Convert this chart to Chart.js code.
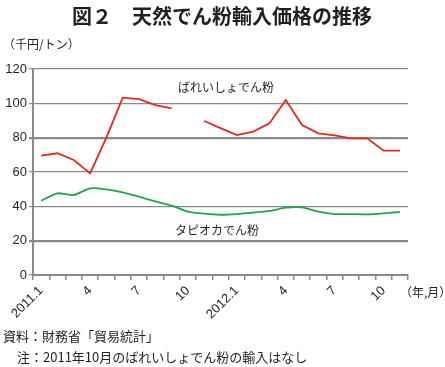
<!DOCTYPE html>
<html>
<head>
<meta charset="utf-8">
<script src="https://cdn.jsdelivr.net/npm/chart.js@4"></script>
<style>
  html, body { margin: 0; padding: 0; background: #fff; }
</style>
</head>
<body>
<canvas id="myChart" width="445" height="367"></canvas>
<script>
// 2011.1 - 2012.11
const months = ["2011.1", "2", "3", "4", "5", "6", "7", "8", "9", "10", "11", "12",
  "2012.1", "2", "3", "4", "5", "6", "7", "8", "9", "10", "11"];
// ばれいしょでん粉 (2011.10 は輸入なし)
const potato = [69.5, 70.9, 67.0, 59.2, 80.0, 103.3, 102.5, 99.0, 97.1, null, 89.7, 85.6,
  81.5, 83.5, 88.3, 101.9, 87.4, 82.5, 81.3, 79.6, 79.6, 72.4, 72.4];
// タピオカでん粉
const tapioca = [43.3, 47.6, 46.6, 50.5, 49.9, 48.2, 45.6, 42.9, 40.4, 36.9, 35.7, 35.1,
  35.5, 36.3, 37.3, 39.2, 39.4, 36.9, 35.5, 35.5, 35.3, 35.9, 36.7];
const yTicks = [0, 20, 40, 60, 80, 100, 120];

const jp = '"Noto Sans CJK JP", "Noto Sans", sans-serif';
const textColor = "#231f20";
const gridColor = "#8a8a8a";

const textPlugin = {
  id: "texts",
  afterDraw(chart) {
    const c = chart.ctx;
    c.save();
    c.fillStyle = textColor;
    c.textBaseline = "middle";
    c.textAlign = "center";
    c.font = "bold 20px " + jp;
    c.fillText("図２　天然でん粉輸入価格の推移", 222, 16);
    c.textAlign = "left";
    c.font = "12px " + jp;
    c.fillText("（千円/トン）", 3, 44);
    c.fillText("ばれいしょでん粉", 178, 87);
    c.fillText("タピオカでん粉", 175, 230);
    c.fillText("（年,月）", 400, 292);
    c.font = "13px " + jp;
    c.fillText("資料：財務省「貿易統計」", 3, 336);
    c.fillText("注：2011年10月のばれいしょでん粉の輸入はなし", 17, 357);
    c.restore();
  }
};

const ctx = document.getElementById("myChart");
const myChart = new Chart(ctx, {
  type: "line",
  data: {
    labels: months,
    datasets: [
      {
        label: "ばれいしょでん粉",
        data: potato,
        borderColor: "#e8261e",
        borderWidth: 1.8,
        pointRadius: 0,
        spanGaps: false,
        tension: 0,
      },
      {
        label: "タピオカでん粉",
        data: tapioca,
        borderColor: "#22a546",
        borderWidth: 1.8,
        pointRadius: 0,
        tension: 0.2,
      },
    ],
  },
  options: {
    responsive: false,
    animation: false,
    layout: { padding: { left: 0, right: 37, top: 69, bottom: 0 } },
    plugins: {
      legend: { display: false },
      tooltip: { enabled: false },
    },
    scales: {
      x: {
        offset: true,
        grid: {
          offset: true,
          drawOnChartArea: false,
          color: gridColor,
          tickLength: 5,
          lineWidth: 1.5,
        },
        border: { color: gridColor, width: 2 },
        ticks: {
          autoSkip: false,
          maxRotation: 45,
          minRotation: 45,
          padding: 3,
          color: textColor,
          font: { family: '"Liberation Sans", Arial, sans-serif', size: 13 },
          callback: (v, i) => (i % 3 === 0 ? months[i] : ""),
        },
        afterFit: (scale) => { scale.height = 92; },
      },
      y: {
        min: 0,
        max: 120,
        afterBuildTicks: (scale) => { scale.ticks = yTicks.map((v) => ({ value: v })); },
        grid: {
          color: gridColor,
          lineWidth: (c) => (c.tick && (c.tick.value === 80 || c.tick.value === 20) ? 2.2 : 1.2),
          tickLength: 4,
        },
        border: { color: gridColor, width: 2 },
        ticks: {
          padding: 2,
          color: textColor,
          font: { family: '"Liberation Sans", Arial, sans-serif', size: 13 },
        },
        afterFit: (scale) => { scale.width = 33; },
      },
    },
  },
  plugins: [textPlugin],
});
</script>
</body>
</html>
